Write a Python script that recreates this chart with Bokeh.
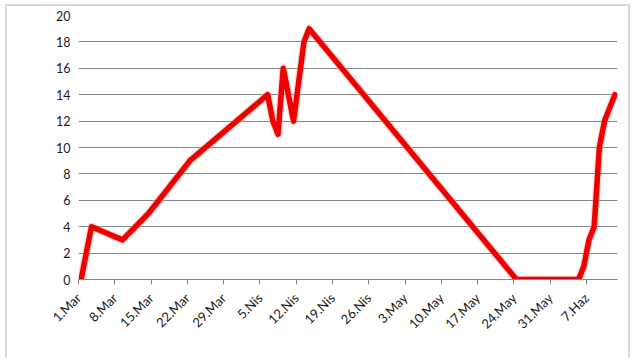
import pandas as pd
from bokeh.plotting import figure
from bokeh.models import FixedTicker, Range1d, ColumnDataSource
from bokeh.embed import file_html
from bokeh.resources import INLINE
import math

# data
start_date = "2013-03-01"
dates = ["2013-03-01", "2013-03-03", "2013-03-09", "2013-03-14", "2013-03-22",
         "2013-04-06", "2013-04-07", "2013-04-08", "2013-04-09", "2013-04-11",
         "2013-04-13", "2013-04-14", "2013-05-24", "2013-06-05", "2013-06-06",
         "2013-06-07", "2013-06-08", "2013-06-09", "2013-06-10", "2013-06-12"]
values = [0, 4, 3, 5, 9, 14, 12, 11, 16, 12, 18, 19, 0, 0, 1, 3, 4, 10, 12, 14]
tick_labels = ["1.Mar", "8.Mar", "15.Mar", "22.Mar", "29.Mar", "5.Nis", "12.Nis",
               "19.Nis", "26.Nis", "3.May", "10.May", "17.May", "24.May", "31.May", "7.Haz"]
y_ticks = [0, 2, 4, 6, 8, 10, 12, 14, 16, 18, 20]
last_date = "2013-06-12"

t0 = pd.Timestamp(start_date)
days = [(pd.Timestamp(d) - t0).days for d in dates]
n_days = (pd.Timestamp(last_date) - t0).days + 1
# Excel date axis: each day is a slot, ticks at the slot boundaries
tick_pos = [7 * i - 0.5 for i in range(len(tick_labels))]

src = ColumnDataSource(dict(x=days, y=values))

FONT = "Lato"

p = figure(width=625, height=354, output_backend="svg", toolbar_location=None,
           x_range=Range1d(-0.5, n_days - 0.5), y_range=Range1d(0, 20),
           min_border_left=71, min_border_right=15, min_border_top=9,
           min_border_bottom=81,
           styles={"margin-left": "5px", "margin-top": "4px",
                   "border-left": "2px solid #dadada",
                   "border-top": "2px solid #dadada",
                   "border-right": "2px solid #dadada"})
p.outline_line_color = None
p.background_fill_color = "white"
p.border_fill_color = "white"

# faint shadow under the line
p.line("x", "y", source=src, line_color="#f3b0b0", line_width=8, line_alpha=0.5,
       line_join="round", line_cap="round")
p.line("x", "y", source=src, line_color="#ee0000", line_width=5.5,
       line_join="round", line_cap="round")

# y axis
p.yaxis.ticker = FixedTicker(ticks=y_ticks)
p.yaxis.axis_line_color = None
p.yaxis.major_tick_line_color = None
p.yaxis.major_tick_in = 0
p.yaxis.major_tick_out = 0
p.yaxis.minor_tick_line_color = None
p.yaxis.major_label_standoff = 8
p.yaxis.major_label_text_font = FONT
p.yaxis.major_label_text_font_size = "12.5px"
p.yaxis.major_label_text_color = "#1a1a1a"

# x axis
p.xaxis.ticker = FixedTicker(ticks=tick_pos)
p.xaxis.major_label_overrides = {t: lab for t, lab in zip(tick_pos, tick_labels)}
p.xaxis.axis_line_color = "#868686"
p.xaxis.major_tick_line_color = "#868686"
p.xaxis.major_tick_in = 0
p.xaxis.major_tick_out = 5
p.xaxis.minor_tick_line_color = None
p.xaxis.major_label_orientation = math.pi / 4
p.xaxis.major_label_standoff = 11
p.xaxis.major_label_text_font = FONT
p.xaxis.major_label_text_font_size = "13px"
p.xaxis.major_label_text_color = "#1a1a1a"

p.xgrid.grid_line_color = None
p.ygrid.grid_line_color = "#868686"
p.ygrid.grid_line_width = 1

open("out.html", "w").write(file_html(p, INLINE))
